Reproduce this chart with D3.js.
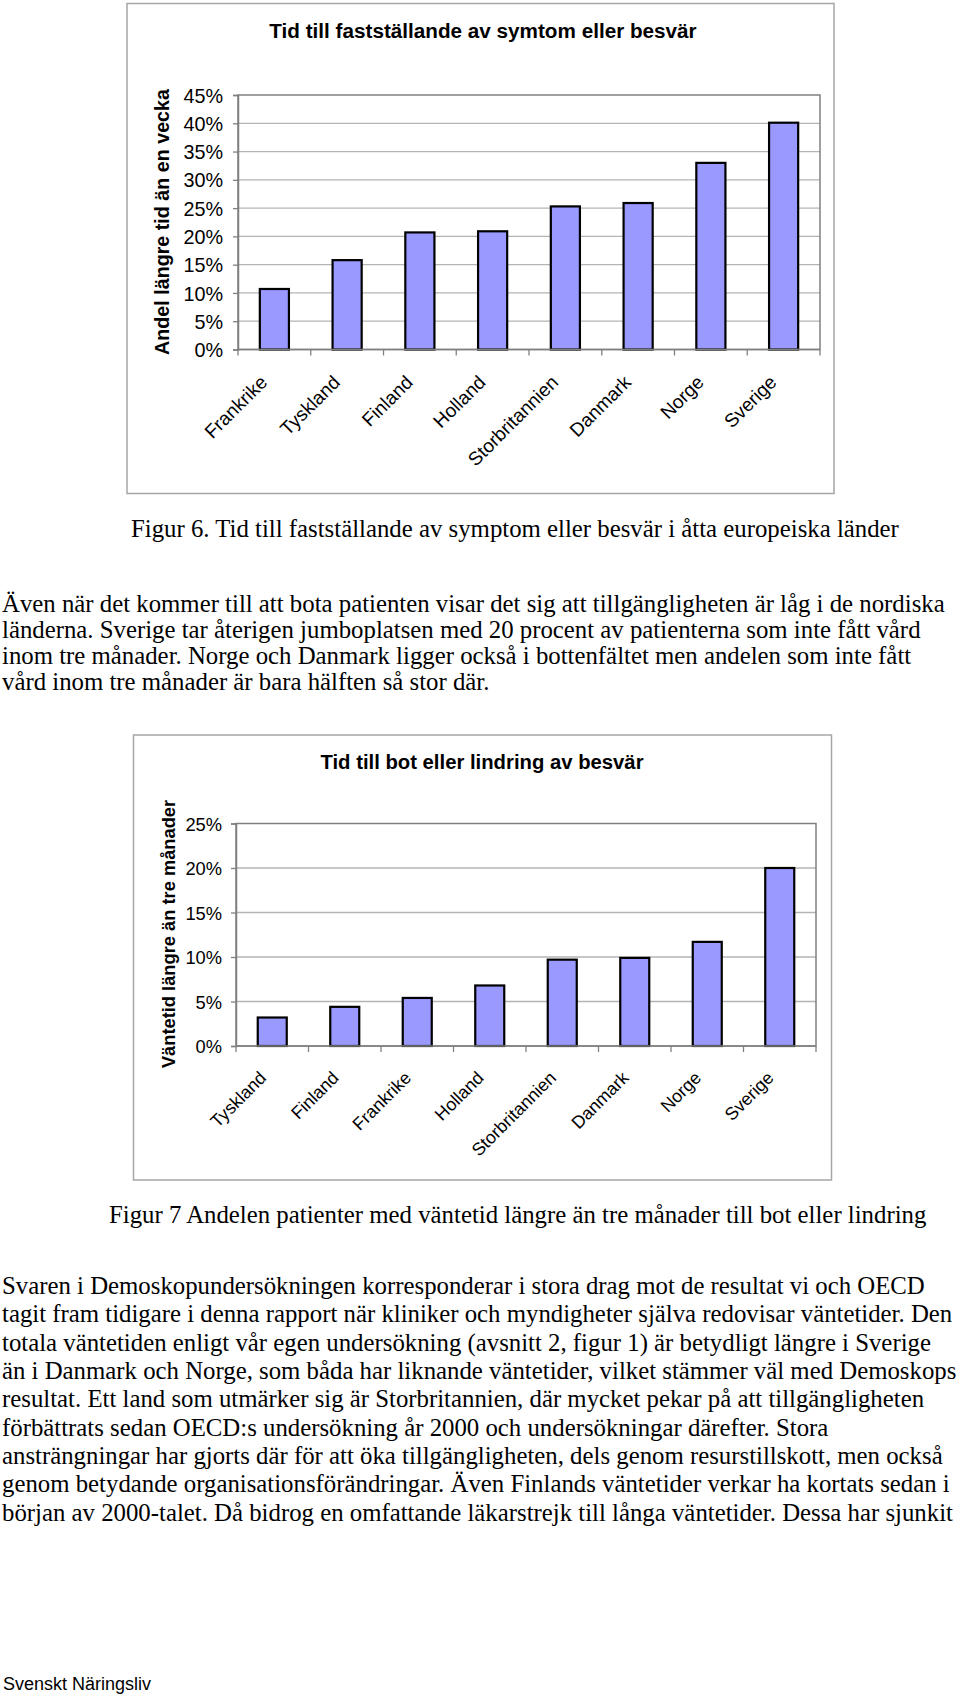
<!DOCTYPE html>
<html><head><meta charset="utf-8">
<script src="https://cdn.jsdelivr.net/npm/d3@7"></script>
<style>html,body{margin:0;padding:0;background:#fff;} svg{display:block;}</style>
</head><body>
<svg id="page" width="960" height="1694"></svg>
<script>
// ---------- data ----------
const categories1 = ["Frankrike","Tyskland","Finland","Holland","Storbritannien","Danmark","Norge","Sverige"];
const values1 = [10.7, 15.8, 20.7, 20.9, 25.3, 25.9, 33.0, 40.1];
const yTicks1 = [0,5,10,15,20,25,30,35,40,45];
const title1 = "Tid till fastställande av symtom eller besvär";
const yLabel1 = "Andel längre tid än en vecka";

const categories2 = ["Tyskland","Finland","Frankrike","Holland","Storbritannien","Danmark","Norge","Sverige"];
const values2 = [3.2, 4.4, 5.4, 6.8, 9.7, 9.9, 11.7, 20.0];
const yTicks2 = [0,5,10,15,20,25];
const title2 = "Tid till bot eller lindring av besvär";
const yLabel2 = "Väntetid längre än tre månader";

const caption1 = "Figur 6. Tid till fastställande av symptom eller besvär i åtta europeiska länder";
const para1 = [
  "Även när det kommer till att bota patienten visar det sig att tillgängligheten är låg i de nordiska",
  "länderna. Sverige tar återigen jumboplatsen med 20 procent av patienterna som inte fått vård",
  "inom tre månader. Norge och Danmark ligger också i bottenfältet men andelen som inte fått",
  "vård inom tre månader är bara hälften så stor där."
];
const caption2 = "Figur 7 Andelen patienter med väntetid längre än tre månader till bot eller lindring";
const para2 = [
  "Svaren i Demoskopundersökningen korresponderar i stora drag mot de resultat vi och OECD",
  "tagit fram tidigare i denna rapport när kliniker och myndigheter själva redovisar väntetider. Den",
  "totala väntetiden enligt vår egen undersökning (avsnitt 2, figur 1) är betydligt längre i Sverige",
  "än i Danmark och Norge, som båda har liknande väntetider, vilket stämmer väl med Demoskops",
  "resultat. Ett land som utmärker sig är Storbritannien, där mycket pekar på att tillgängligheten",
  "förbättrats sedan OECD:s undersökning år 2000 och undersökningar därefter. Stora",
  "ansträngningar har gjorts där för att öka tillgängligheten, dels genom resurstillskott, men också",
  "genom betydande organisationsförändringar. Även Finlands väntetider verkar ha kortats sedan i",
  "början av 2000-talet. Då bidrog en omfattande läkarstrejk till långa väntetider. Dessa har sjunkit"
];
const footer = "Svenskt Näringsliv";

// ---------- drawing ----------
const svg = d3.select("#page");
const SANS = "'Liberation Sans', Arial, sans-serif";
const SERIF = "'Liberation Serif', 'Times New Roman', serif";

function drawChart(cfg) {
  const g = svg.append("g");
  g.append("rect")
    .attr("x", cfg.box.x).attr("y", cfg.box.y)
    .attr("width", cfg.box.w).attr("height", cfg.box.h)
    .attr("fill", "#fff").attr("stroke", "#a6a6a6").attr("stroke-width", 1.5);

  const x = d3.scaleBand().domain(cfg.categories)
    .range([cfg.plot.left, cfg.plot.right]).paddingInner(0.6).paddingOuter(0.3);
  const y = d3.scaleLinear().domain([0, cfg.yMax]).range([cfg.plot.bottom, cfg.plot.top]);

  // gridlines
  g.append("g").selectAll("line").data(cfg.ticks.filter(t => t > 0 && t < cfg.yMax)).join("line")
    .attr("x1", cfg.plot.left).attr("x2", cfg.plot.right)
    .attr("y1", d => y(d)).attr("y2", d => y(d))
    .attr("stroke", "#b4b4b4").attr("stroke-width", 1.3);

  // plot frame
  g.append("rect")
    .attr("x", cfg.plot.left).attr("y", cfg.plot.top)
    .attr("width", cfg.plot.right - cfg.plot.left).attr("height", cfg.plot.bottom - cfg.plot.top)
    .attr("fill", "none").attr("stroke", "#808080").attr("stroke-width", 1.5);

  // y axis with labels
  const yAxis = g.append("g").attr("transform", `translate(${cfg.plot.left},0)`)
    .call(d3.axisLeft(y).tickValues(cfg.ticks).tickFormat(d => d + "%").tickSize(5).tickPadding(cfg.tickPad));
  yAxis.select(".domain").attr("stroke", "#808080").attr("stroke-width", 1.5);
  yAxis.selectAll(".tick line").attr("stroke", "#808080").attr("stroke-width", 1.3);
  yAxis.selectAll(".tick text").attr("font-family", SANS).attr("font-size", cfg.tickFont)
    .attr("fill", "#000").attr("dy", "0.36em");

  // category tick marks on x axis
  const bounds = d3.range(cfg.categories.length + 1).map(i => x.range()[0] + i * x.step());
  g.append("g").selectAll("line").data(bounds).join("line")
    .attr("x1", d => d).attr("x2", d => d)
    .attr("y1", cfg.plot.bottom).attr("y2", cfg.plot.bottom + 6)
    .attr("stroke", "#808080").attr("stroke-width", 1.3);

  // bars
  g.append("g").selectAll("rect").data(cfg.values).join("rect")
    .attr("x", (d, i) => x(cfg.categories[i]))
    .attr("y", d => y(d))
    .attr("width", x.bandwidth())
    .attr("height", d => y(0) - y(d))
    .attr("fill", "#9999ff").attr("stroke", "#000").attr("stroke-width", 2.2);

  // x axis line
  g.append("line")
    .attr("x1", cfg.plot.left).attr("x2", cfg.plot.right)
    .attr("y1", cfg.plot.bottom).attr("y2", cfg.plot.bottom)
    .attr("stroke", "#808080").attr("stroke-width", 1.5);

  // x labels
  g.append("g").selectAll("text").data(cfg.categories).join("text")
    .attr("transform", d => `translate(${x(d) + x.bandwidth() / 2 + cfg.lab.dx},${cfg.plot.bottom + cfg.lab.dy}) rotate(-45)`)
    .attr("text-anchor", "end")
    .attr("font-family", SANS).attr("font-size", cfg.labFont).attr("fill", "#000")
    .text(d => d);

  // title
  g.append("text").attr("x", cfg.title.x).attr("y", cfg.title.y)
    .attr("text-anchor", "middle").attr("font-family", SANS).attr("font-weight", "bold")
    .attr("font-size", cfg.titleFont).attr("fill", "#000").text(cfg.titleText);

  // y label
  g.append("text")
    .attr("transform", `translate(${cfg.ylab.x},${cfg.ylab.y}) rotate(-90)`)
    .attr("text-anchor", "middle").attr("dy", "0.36em")
    .attr("font-family", SANS).attr("font-weight", "bold")
    .attr("font-size", cfg.ylabFont).attr("fill", "#000").text(cfg.ylabText);
}

drawChart({
  categories: categories1, values: values1, ticks: yTicks1, yMax: 45,
  box: {x: 127, y: 3.5, w: 707, h: 490},
  plot: {left: 238, right: 820, top: 95, bottom: 349.5},
  tickPad: 10, tickFont: 19.8, labFont: 19, lab: {dx: -6, dy: 34},
  title: {x: 483, y: 38}, titleFont: 20.7, titleText: title1,
  ylab: {x: 162, y: 222}, ylabFont: 19.7, ylabText: yLabel1
});

drawChart({
  categories: categories2, values: values2, ticks: yTicks2, yMax: 25,
  box: {x: 133.5, y: 735, w: 698, h: 445},
  plot: {left: 236, right: 816, top: 823.5, bottom: 1046},
  tickPad: 9, tickFont: 18.3, labFont: 17.8, lab: {dx: -5, dy: 33},
  title: {x: 482, y: 769}, titleFont: 20.3, titleText: title2,
  ylab: {x: 168, y: 934}, ylabFont: 18.3, ylabText: yLabel2
});

// body text
function textLines(lines, x0, y0, step) {
  svg.append("g").selectAll("text").data(lines).join("text")
    .attr("x", x0).attr("y", (d, i) => y0 + i * step)
    .attr("font-family", SERIF).attr("font-size", 24.8).attr("fill", "#000")
    .attr("xml:space", "preserve")
    .text(d => d);
}
textLines([caption1], 131, 537, 0);
textLines(para1, 2, 612, 26);
textLines([caption2], 109, 1223, 0);
textLines(para2, 2, 1294, 28.35);

svg.append("text").attr("x", 3).attr("y", 1690)
  .attr("font-family", SANS).attr("font-size", 18).attr("fill", "#000").text(footer);
</script>
</body></html>
